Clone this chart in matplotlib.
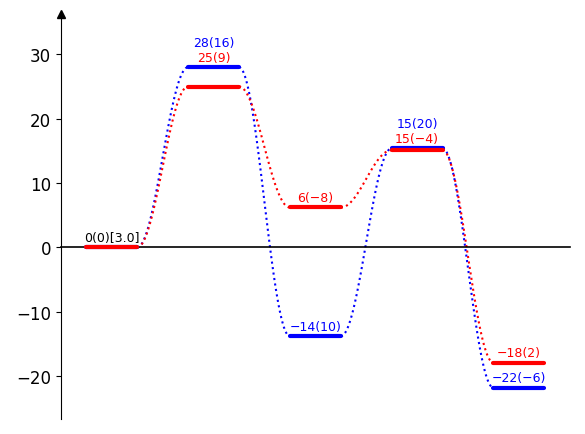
import numpy as np
import matplotlib
matplotlib.use("Agg")
import matplotlib.pyplot as plt

# energy levels for each state (blue / red pathway)
blue_energy = [0, 28, -13.8, 15.4, -21.8]
red_energy = [0, 25, 6.2, 15.1, -17.9]
blue_labels = ["", "28(16)", "\u221214(10)", "15(20)", "\u221222(\u22126)"]
red_labels = ["", "25(9)", "6(\u22128)", "15(\u22124)", "\u221218(2)"]
start_label = "0(0)[3.0]"

half = 0.25

fig = plt.figure(figsize=(5.85, 4.35), dpi=100)
ax = fig.add_axes([0.104, 0.034, 0.87, 0.932])


def draw_path(energy, color):
    for i, e in enumerate(energy):
        ax.plot([i - half, i + half], [e, e], color=color, lw=3, solid_capstyle="round", zorder=3)
    for i in range(len(energy) - 1):
        t = np.linspace(0, 1, 60)
        xs = (i + half) + t * (1 - 2 * half)
        ys = energy[i] + (energy[i + 1] - energy[i]) * (1 - np.cos(np.pi * t)) / 2
        ax.plot(xs, ys, color=color, ls=":", lw=1.5, zorder=2)


draw_path(blue_energy, "blue")
draw_path(red_energy, "red")

off = 1.55
for i in range(1, len(blue_energy)):
    b, r = blue_energy[i], red_energy[i]
    if abs(b - r) < 3.5:
        top = max(b, r)
        ax.text(i, top + off, red_labels[i], color="red", ha="center", va="center", fontsize=9)
        ax.text(i, top + off + 2.35, blue_labels[i], color="blue", ha="center", va="center", fontsize=9)
    else:
        ax.text(i, r + off, red_labels[i], color="red", ha="center", va="center", fontsize=9)
        ax.text(i, b + off, blue_labels[i], color="blue", ha="center", va="center", fontsize=9)
ax.text(0, off, start_label, color="black", ha="center", va="center", fontsize=9)

ax.set_xlim(-0.5, 4.5)
ax.set_ylim(-26.7, 36.3)
ax.set_yticks([-20, -10, 0, 10, 20, 30])
ax.tick_params(axis="y", labelsize=12)
ax.set_xticks([])
ax.spines["top"].set_visible(False)
ax.spines["right"].set_visible(False)
ax.spines["bottom"].set_position(("data", 0))
ax.spines["bottom"].set_linewidth(1.2)
ax.plot(0, 1, "^k", markersize=6, transform=ax.transAxes, clip_on=False)

fig.savefig("out.png", dpi=100)
